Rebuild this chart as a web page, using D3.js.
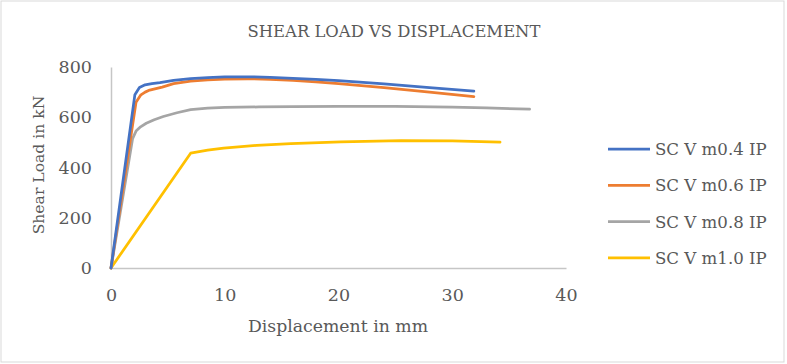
<!DOCTYPE html>
<html>
<head>
<meta charset="utf-8">
<script src="https://cdn.jsdelivr.net/npm/d3@7"></script>
<style>
  body { margin: 0; background: #fff; }
  text { font-family: "DejaVu Serif", serif; fill: #595959; }
</style>
</head>
<body>
<div id="chart"></div>
<script>
// data
const seriesNames = ["SC V m0.4 IP", "SC V m0.6 IP", "SC V m0.8 IP", "SC V m1.0 IP"];
const seriesColors = ["#4472C4", "#ED7D31", "#A5A5A5", "#FFC000"];

const blueX = [0, 2.1, 2.5, 3.0, 3.6, 4.3, 5.5, 7.0, 8.5, 10, 12, 14, 16, 18, 20, 24, 28, 31.9];
const blueY = [0, 690, 718, 729, 734, 738, 747, 754, 758, 761, 761, 759, 755, 751, 746, 733, 718, 704];

const orangeX = [0, 2.2, 2.6, 3.0, 3.4, 4.5, 5.5, 7.0, 8.5, 10, 12, 14, 16, 18, 20, 24, 28, 31.9];
const orangeY = [0, 660, 688, 700, 708, 720, 734, 744, 749, 752, 753, 751, 747, 741, 734, 718, 700, 682];

const grayX = [0, 1.9, 2.2, 2.6, 3.1, 3.8, 4.6, 5.8, 7.0, 8.5, 10, 13, 16, 20, 25, 30, 33, 36.8];
const grayY = [0, 515, 545, 562, 576, 590, 603, 618, 630, 636, 639, 641, 642, 643, 643, 640, 637, 632];

const yellowX = [0, 7.0, 8.5, 9.9, 12.8, 15.8, 20.2, 25.5, 30, 34.2];
const yellowY = [0, 457, 469, 477, 488, 495, 502, 507, 506, 501];

const xTicks = [0, 10, 20, 30, 40];
const yTicks = [0, 200, 400, 600, 800];

const W = 787, H = 364;
const svg = d3.select("#chart").append("svg")
    .attr("width", W)
    .attr("height", H);

// outer frame
svg.append("rect")
    .attr("x", 1).attr("y", 1)
    .attr("width", W - 4).attr("height", H - 3)
    .attr("fill", "#fff")
    .attr("stroke", "#d9d9d9")
    .attr("stroke-width", 1);

const x = d3.scaleLinear().domain([0, 40]).range([111, 566]);
const y = d3.scaleLinear().domain([0, 800]).range([268, 67]);

// title
svg.append("text")
    .attr("x", 394).attr("y", 36.5)
    .attr("text-anchor", "middle")
    .attr("font-size", "16.4px")
    .text("SHEAR LOAD VS DISPLACEMENT");

// axes
const xAxis = svg.append("g")
    .attr("transform", "translate(0,268)")
    .call(d3.axisBottom(x).tickValues(xTicks).tickSize(0).tickPadding(21));
const yAxis = svg.append("g")
    .attr("transform", "translate(111,0)")
    .call(d3.axisLeft(y).tickValues(yTicks).tickSize(0).tickPadding(19));

[xAxis, yAxis].forEach(g => {
    g.select(".domain").attr("stroke", "#c6c6c6").attr("stroke-width", 1.5);
    g.selectAll("text")
        .attr("font-family", "DejaVu Serif")
        .attr("font-size", "17.5px")
        .attr("fill", "#595959");
});

// axis titles
svg.append("text")
    .attr("x", 338).attr("y", 332)
    .attr("text-anchor", "middle")
    .attr("font-size", "17.3px")
    .text("Displacement in mm");

svg.append("text")
    .attr("transform", "translate(44,165) rotate(-90)")
    .attr("text-anchor", "middle")
    .attr("font-size", "15.6px")
    .text("Shear Load in kN");

// series
const series = [
    { xs: blueX, ys: blueY },
    { xs: orangeX, ys: orangeY },
    { xs: grayX, ys: grayY },
    { xs: yellowX, ys: yellowY }
];

const line = d3.line()
    .x(d => x(d[0]))
    .y(d => y(d[1]));

// draw back to front so blue sits on top like the original
series.slice().reverse().forEach((s, i) => {
    const idx = series.length - 1 - i;
    const pts = s.xs.map((v, k) => [v, s.ys[k]]);
    svg.append("path")
        .datum(pts)
        .attr("d", line)
        .attr("fill", "none")
        .attr("stroke", seriesColors[idx])
        .attr("stroke-width", 2.75)
        .attr("stroke-linejoin", "round")
        .attr("stroke-linecap", "round");
});

// legend
const legend = svg.append("g");
seriesNames.forEach((name, i) => {
    const ly = 149 + i * 36.3;
    legend.append("line")
        .attr("x1", 608).attr("x2", 650)
        .attr("y1", ly).attr("y2", ly)
        .attr("stroke", seriesColors[i])
        .attr("stroke-width", 2.75);
    legend.append("text")
        .attr("x", 655).attr("y", ly)
        .attr("dy", "0.36em")
        .attr("font-size", "16.6px")
        .text(name);
});
</script>
</body>
</html>
